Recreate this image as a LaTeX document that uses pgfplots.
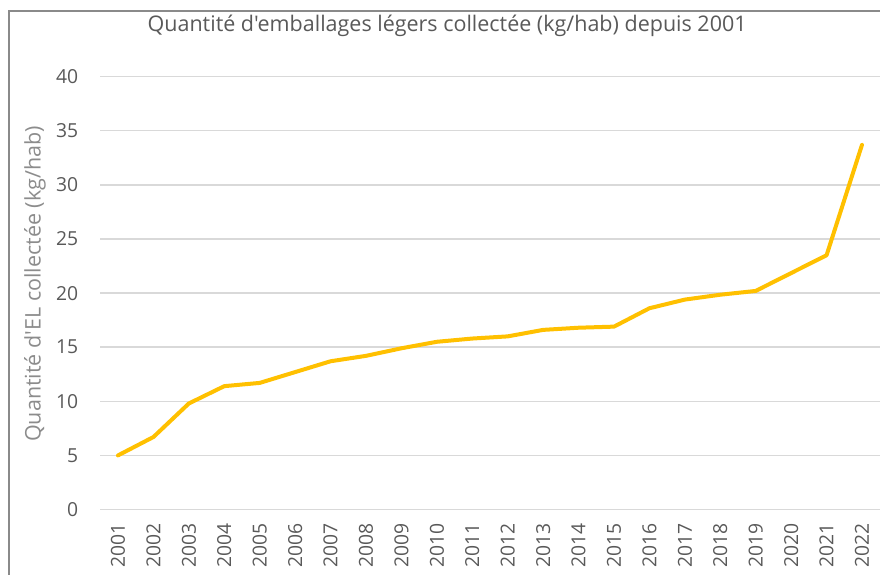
\documentclass[border=0pt]{standalone}
\usepackage{fontspec}
\setmainfont{Open Sans}[Ligatures=TeXOff]
\usepackage{pgfplots}
\pgfplotsset{compat=1.18}
\definecolor{gold}{HTML}{FFC000}
\definecolor{gridc}{HTML}{D9D9D9}
\definecolor{tickc}{HTML}{595959}
\definecolor{labc}{HTML}{8C8C8C}
\definecolor{framec}{HTML}{8A8A8A}
\begin{document}
\begin{tikzpicture}[x=1pt,y=1pt]
\clip (0,0) rectangle (880,575);
\draw[color=framec, line width=1.6pt] (9,-10) -- (9,564) -- (900,564);
\begin{axis}[
  at={(100.3pt,65.5pt)}, anchor=south west,
  scale only axis, width=779.4pt, height=432.8pt,
  xmin=-0.5, xmax=21.5, ymin=0, ymax=40,
  axis line style={draw=none},
  tick style={draw=none},
  ymajorgrids, grid style={color=gridc, line width=1.4pt},
  ytick={0,5,...,40},
  xtick={0,...,21},
  xticklabels={2001,2002,2003,2004,2005,2006,2007,2008,2009,2010,2011,2012,2013,2014,2015,2016,2017,2018,2019,2020,2021,2022},
  /pgf/number format/assume math mode=true,
  yticklabel style={font=\fontsize{19.3}{22}\selectfont, text=tickc, anchor=east, inner sep=0pt, xshift=-22pt},
  xticklabel style={font=\fontsize{19.3}{22}\selectfont, text=tickc, rotate=90, anchor=east, inner sep=0pt, xshift=-13.5pt},
  title={Quantité d'emballages légers collectée (kg/hab) depuis 2001},
  title style={at={(axis description cs:0.445,1.1033)}, anchor=center, font=\fontsize{21.5}{25}\selectfont, text=tickc},
  ylabel={Quantité d'EL collectée (kg/hab)},
  ylabel style={at={(axis description cs:-0.0838,0.521)}, anchor=center, font=\fontsize{21.5}{25}\selectfont, text=labc},
]
\addplot[color=gold, line width=4pt, line join=round, line cap=round] coordinates {
(0,5.0) (1,6.7) (2,9.8) (3,11.4) (4,11.7) (5,12.7) (6,13.7) (7,14.2) (8,14.9) (9,15.5) (10,15.8)
(11,16.0) (12,16.6) (13,16.8) (14,16.9) (15,18.6) (16,19.4) (17,19.85) (18,20.2) (19,21.85) (20,23.5) (21,33.7)
};
\end{axis}
\end{tikzpicture}
\end{document}
